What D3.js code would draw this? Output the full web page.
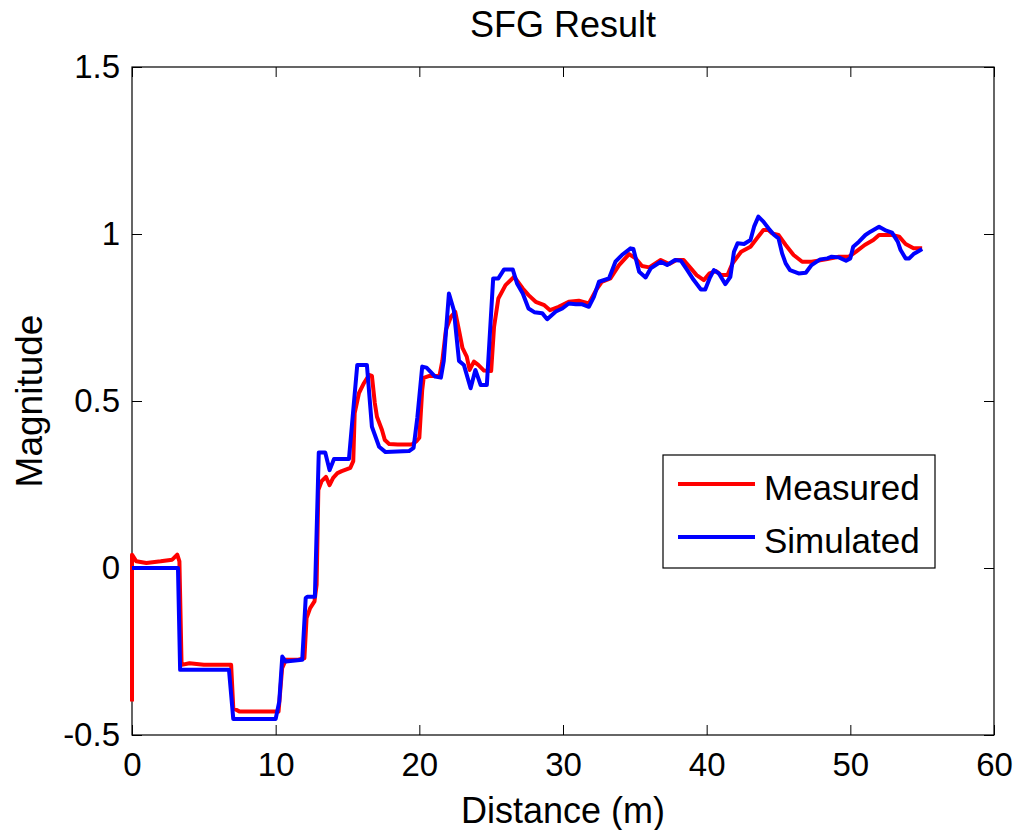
<!doctype html>
<html lang=en>
<head>
<meta charset=utf-8>
<title>SFG Result</title>
<script src="https://d3js.org/d3.v7.min.js"></script>
<style>
  body { margin: 0; background: #fff; }
  text { font-family: "Liberation Sans", Arial, sans-serif; fill: #000; }
</style>
</head>
<body>
<div id="container"></div>
<script>
// measured trace (distance in m, magnitude)
var measuredX = [0,0,0.3,1,2,2.8,3.15,3.3,3.45,4,5,6,6.9,7.05,7.5,9,10.2,10.45,10.7,11.5,12.0,12.15,12.4,12.7,12.85,12.97,13.2,13.5,13.75,14.0,14.3,14.6,15.2,15.4,15.5,15.8,16.15,16.5,16.7,16.9,17.05,17.4,17.6,17.9,18.5,19.5,19.8,20.0,20.2,20.3,20.7,21.4,21.6,21.85,22.2,22.5,22.8,23.0,23.3,23.5,23.8,24.1,24.5,25.0,25.2,25.5,26.0,26.6,27.2,27.6,28.1,28.7,29.1,29.7,30.4,31.1,31.8,32.3,32.7,33.3,33.9,34.6,35.05,35.5,36.0,36.8,37.4,37.9,38.4,38.9,39.3,39.8,40.2,40.65,41.0,41.45,41.8,42.4,43.05,43.5,43.95,44.3,44.55,45.0,45.5,46.05,46.65,47.3,48.3,49.2,49.9,50.4,51.0,51.6,52.0,52.9,53.4,53.85,54.4,55.0];
var measuredY = [-0.4,0.04,0.02,0.015,0.02,0.025,0.04,0.02,-0.29,-0.285,-0.29,-0.29,-0.29,-0.42,-0.43,-0.43,-0.43,-0.3,-0.275,-0.275,-0.27,-0.15,-0.12,-0.1,-0.05,0.233,0.26,0.273,0.248,0.27,0.284,0.29,0.3,0.32,0.464,0.524,0.554,0.578,0.575,0.494,0.453,0.413,0.383,0.371,0.37,0.37,0.38,0.39,0.533,0.569,0.575,0.575,0.62,0.713,0.752,0.767,0.703,0.659,0.633,0.593,0.618,0.608,0.591,0.59,0.722,0.807,0.847,0.872,0.837,0.817,0.797,0.787,0.772,0.782,0.797,0.8,0.792,0.832,0.857,0.867,0.907,0.94,0.927,0.904,0.9,0.922,0.91,0.922,0.922,0.897,0.877,0.862,0.882,0.889,0.877,0.877,0.912,0.947,0.962,0.987,1.012,1.012,1.002,0.997,0.967,0.937,0.917,0.917,0.924,0.932,0.932,0.947,0.967,0.982,0.997,0.997,0.992,0.97,0.957,0.957];

// simulated trace
var simulatedX = [0,3.2,3.35,6.75,7.05,10.0,10.25,10.46,10.7,11.85,12.09,12.2,12.73,13.0,13.45,13.75,14.06,15.1,15.68,16.35,16.7,17.2,17.65,19.28,19.6,19.86,20.2,20.5,21.1,21.5,21.7,22.06,22.4,22.76,23.1,23.57,23.9,24.27,24.7,25.14,25.5,25.9,26.5,26.8,27.2,27.6,28.0,28.55,28.9,29.5,29.95,30.4,30.9,31.3,31.8,32.15,32.5,33.2,33.65,34.1,34.7,34.9,35.3,35.75,36.1,36.8,37.25,37.8,38.2,38.65,39.1,39.6,39.9,40.2,40.5,40.85,41.3,41.65,41.9,42.15,42.6,43.05,43.3,43.6,43.95,44.3,44.7,45.0,45.25,45.5,45.8,46.4,46.9,47.3,47.9,48.4,48.7,49.2,49.7,50.0,50.2,50.6,51.05,51.4,52.0,52.5,52.9,53.3,53.5,53.85,54.1,54.4,54.8,55.0];
var simulatedY = [0,0,-0.305,-0.305,-0.452,-0.452,-0.4,-0.265,-0.28,-0.275,-0.09,-0.086,-0.086,0.346,0.346,0.293,0.326,0.326,0.608,0.608,0.423,0.363,0.347,0.35,0.36,0.45,0.603,0.6,0.573,0.57,0.62,0.822,0.772,0.62,0.608,0.538,0.593,0.548,0.548,0.867,0.867,0.894,0.894,0.852,0.822,0.777,0.766,0.763,0.745,0.768,0.777,0.792,0.79,0.79,0.782,0.812,0.857,0.867,0.917,0.937,0.957,0.955,0.887,0.87,0.897,0.917,0.907,0.922,0.92,0.892,0.862,0.834,0.834,0.867,0.892,0.882,0.85,0.872,0.947,0.972,0.97,0.982,1.022,1.052,1.037,1.017,0.997,0.987,0.942,0.912,0.892,0.882,0.884,0.907,0.924,0.927,0.932,0.93,0.92,0.927,0.962,0.977,0.997,1.007,1.022,1.01,1.004,0.977,0.952,0.927,0.927,0.94,0.95,0.955];

var xTicks = [0,10,20,30,40,50,60];
var yTicks = [-0.5,0,0.5,1,1.5];
var seriesNames = ["Measured","Simulated"];
var seriesColors = ["#ff0000","#0000ff"];

var w = 1018, h = 830;
var plotL = 132, plotR = 994, plotT = 67, plotB = 735;

var svg = d3.select("#container").append("svg")
    .attr("width", w).attr("height", h);

var x = d3.scaleLinear().domain([0,60]).range([plotL,plotR]);
var y = d3.scaleLinear().domain([-0.5,1.5]).range([plotB,plotT]);

// axes: ticks point inward, on all four sides
svg.append("g").attr("transform","translate(0,"+plotB+")")
    .call(d3.axisBottom(x).tickValues(xTicks).tickSizeInner(-10).tickSizeOuter(0).tickPadding(18).tickFormat(d3.format("d")));
svg.append("g").attr("transform","translate(0,"+plotT+")")
    .call(d3.axisTop(x).tickValues(xTicks).tickSizeInner(-10).tickSizeOuter(0).tickFormat(""));
svg.append("g").attr("transform","translate("+plotL+",0)")
    .call(d3.axisLeft(y).tickValues(yTicks).tickSizeInner(-10).tickSizeOuter(0).tickPadding(12).tickFormat(function(d){ return d; }));
svg.append("g").attr("transform","translate("+plotR+",0)")
    .call(d3.axisRight(y).tickValues(yTicks).tickSizeInner(-10).tickSizeOuter(0).tickFormat(""));

svg.selectAll(".domain").remove();
svg.selectAll(".tick line").attr("stroke","#000").attr("stroke-width",1);
svg.selectAll(".tick text").style("font-size","33px").attr("fill","#000");

svg.append("rect").attr("x",plotL).attr("y",plotT)
    .attr("width",plotR-plotL).attr("height",plotB-plotT)
    .attr("fill","none").attr("stroke","#000").attr("stroke-width",1.2);

var line = d3.line().x(function(d){ return x(d[0]); }).y(function(d){ return y(d[1]); });
var measured = d3.zip(measuredX, measuredY);
var simulated = d3.zip(simulatedX, simulatedY);

svg.append("path").datum(measured).attr("d", line)
    .attr("fill","none").attr("stroke",seriesColors[0]).attr("stroke-width",4).attr("stroke-linejoin","round");
svg.append("path").datum(simulated).attr("d", line)
    .attr("fill","none").attr("stroke",seriesColors[1]).attr("stroke-width",4).attr("stroke-linejoin","round");

// title and labels
svg.append("text").attr("x",(plotL+plotR)/2).attr("y",37).attr("text-anchor","middle")
    .style("font-size","36px").text("SFG Result");
svg.append("text").attr("x",(plotL+plotR)/2).attr("y",823).attr("text-anchor","middle")
    .style("font-size","36px").text("Distance (m)");
svg.append("text").attr("transform","translate(42,"+((plotT+plotB)/2)+") rotate(-90)")
    .attr("text-anchor","middle").style("font-size","37px").text("Magnitude");

// legend
var lg = svg.append("g");
lg.append("rect").attr("x",663).attr("y",455).attr("width",272).attr("height",113)
    .attr("fill","#fff").attr("stroke","#000").attr("stroke-width",1.2);
seriesNames.forEach(function(name,i){
    var ly = 484 + i*53;
    lg.append("line").attr("x1",678).attr("x2",755).attr("y1",ly).attr("y2",ly)
        .attr("stroke",seriesColors[i]).attr("stroke-width",4);
    lg.append("text").attr("x",764).attr("y",ly+16).style("font-size","35px").text(name);
});
</script>
</body>
</html>
